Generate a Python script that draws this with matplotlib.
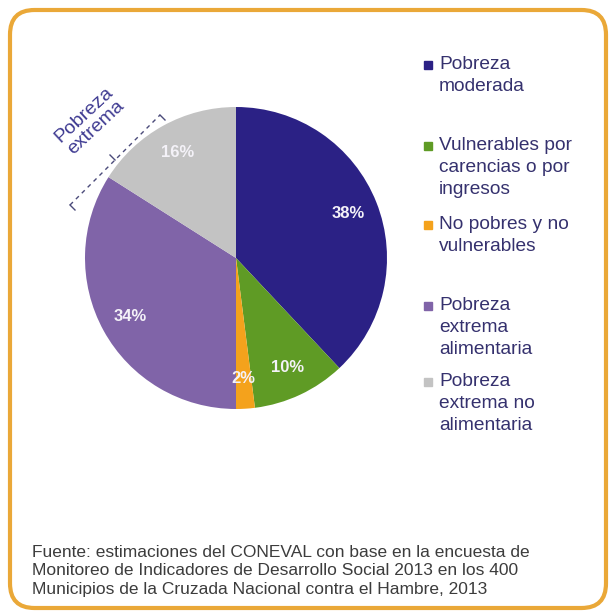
import numpy as np
import matplotlib
matplotlib.use("Agg")
import matplotlib.pyplot as plt
from matplotlib.patches import FancyBboxPatch, Rectangle
from matplotlib.lines import Line2D

plt.rcParams['font.family'] = ['Liberation Sans', 'DejaVu Sans']

# datos
categorias = ["Pobreza\nmoderada",
              "Vulnerables por\ncarencias o por\ningresos",
              "No pobres y no\nvulnerables",
              "Pobreza\nextrema\nalimentaria",
              "Pobreza\nextrema no\nalimentaria"]
valores = [38, 10, 2, 34, 16]
colores = ["#2b2185", "#5f9b25", "#f4a21c", "#8064a8", "#c3c3c3"]
fuente = ("Fuente: estimaciones del CONEVAL con base en la encuesta de\n"
          "Monitoreo de Indicadores de Desarrollo Social 2013 en los 400\n"
          "Municipios de la Cruzada Nacional contra el Hambre, 2013")

W, H = 611, 616
fig = plt.figure(figsize=(W / 100, H / 100), dpi=100)
fig.patch.set_facecolor("white")


def fx(px):
    return px / W


def fy(py):
    return 1 - py / H


# marco naranja redondeado
marco = FancyBboxPatch((fx(10), fy(608)), fx(596), (598) / H,
                       boxstyle="round,pad=0,rounding_size=0.04",
                       transform=fig.transFigure, facecolor="white",
                       edgecolor="#eaa838", linewidth=3, zorder=-10)
fig.patches.append(marco)

# pastel
cx, cy, r = 236, 258, 151
ax = fig.add_axes([fx(cx - r), fy(cy + r), 2 * r / W, 2 * r / H])
ax.set_zorder(5)
ax.patch.set_alpha(0)
wedges, texts, autotexts = ax.pie(valores, colors=colores, startangle=90,
                                  counterclock=False, autopct="%d%%",
                                  pctdistance=0.8, radius=1,
                                  wedgeprops=dict(linewidth=0))
for t in autotexts:
    t.set_color("#f4f2f8")
    t.set_fontweight("bold")
    t.set_fontsize(12)
ax.set_xlim(-1, 1)
ax.set_ylim(-1, 1)
ax.set_aspect("equal")
ax.axis("off")

# leyenda manual
ley_y = [56, 137, 216, 297, 373]
for lab, col, y in zip(categorias, colores, ley_y):
    fig.patches.append(Rectangle((fx(424), fy(y + 13)), 8 / W, 8 / H,
                                 transform=fig.transFigure, color=col))
    fig.text(fx(439), fy(y), lab, ha="left", va="top", fontsize=13.8,
             color="#35316e", linespacing=1.4)

# etiqueta "Pobreza extrema" con corchete punteado
fig.text(fx(90), fy(121), "Pobreza\nextrema", rotation=43, ha="center",
         va="center", multialignment="center", fontsize=14, color="#3f3b92",
         linespacing=1.05, rotation_mode="anchor")
x0, y0, x1, y1 = 70, 205, 160, 115
fig.add_artist(Line2D([fx(x0), fx(x1)], [fy(y0), fy(y1)],
                      transform=fig.transFigure, color="#4b4b7a",
                      linewidth=1, linestyle=(0, (3, 3))))
for (x, y) in [(x0, y0), (x1, y1)]:
    fig.add_artist(Line2D([fx(x), fx(x + 5)], [fy(y), fy(y + 5)],
                          transform=fig.transFigure, color="#4b4b7a",
                          linewidth=1))
xm, ym = (x0 + x1) / 2, (y0 + y1) / 2
fig.add_artist(Line2D([fx(xm), fx(xm - 5)], [fy(ym), fy(ym - 5)],
                      transform=fig.transFigure, color="#4b4b7a",
                      linewidth=1))

# fuente
fig.text(fx(32), fy(545), fuente, ha="left", va="top", fontsize=12.5,
         color="#3c3c3c", linespacing=1.28)

fig.savefig("out.png", dpi=100)
